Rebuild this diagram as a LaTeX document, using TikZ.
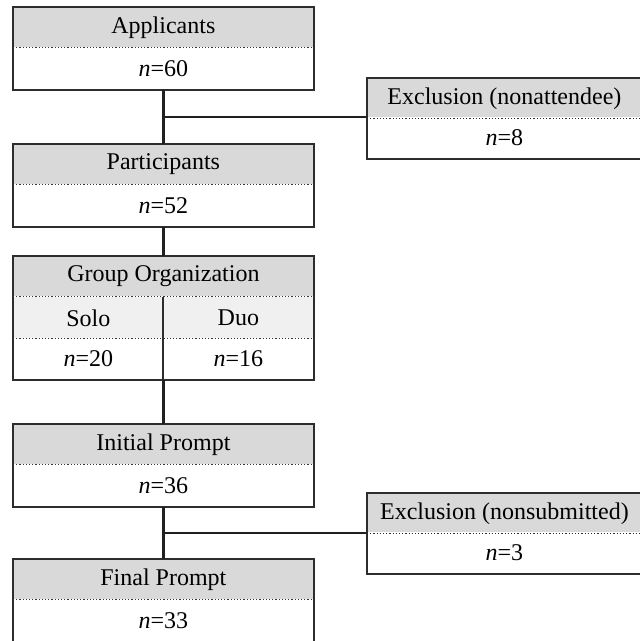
\documentclass[tikz,border=0pt]{standalone}
\usepackage{fontspec}
\setmainfont{Liberation Serif}
\usetikzlibrary{positioning,calc}
\tikzset{
  head/.style={fill=gray!30, minimum height=20pt, inner sep=0pt, font=\fontsize{12}{14}\selectfont},
  sub/.style={fill=gray!12, minimum height=20.5pt, inner sep=0pt, font=\fontsize{12}{14}\selectfont},
  body/.style={fill=white, minimum height=20.5pt, inner sep=0pt, font=\fontsize{12}{14}\selectfont},
  wide/.style={minimum width=150pt},
  half/.style={minimum width=75pt},
  side/.style={minimum width=137pt},
  frame/.style={draw=gray!35!black, line width=1pt},
  sep/.style={draw=gray!40!black, densely dotted, line width=0.6pt},
  link/.style={draw=gray!25!black, line width=1.2pt}
}
\newcommand{\nval}[1]{\textit{n}=#1}
\begin{document}
\begin{tikzpicture}[x=0.5pt,y=-0.5pt]
  \clip (0,0) rectangle (640,641);
  \fill[white] (0,0) rectangle (640,641);
  % left column
  \node[head,wide,anchor=north west] (apph) at (13,7) {Applicants};
  \node[body,wide,anchor=north west] (appb) at (13,48) {\nval{60}};
  \node[head,wide,anchor=north west] (parh) at (13,144) {Participants};
  \node[body,wide,anchor=north west] (parb) at (13,185) {\nval{52}};
  \node[head,wide,anchor=north west] (grph) at (13,256) {Group Organization};
  \node[sub,half,anchor=north west] (solo) at (13,297) {Solo};
  \node[sub,half,anchor=north west] (duo) at (163,297) {Duo};
  \node[body,half,anchor=north west] (solon) at (13,338) {\nval{20}};
  \node[body,half,anchor=north west] (duon) at (163,338) {\nval{16}};
  \node[head,wide,anchor=north west] (inih) at (13,424) {Initial Prompt};
  \node[body,wide,anchor=north west] (inib) at (13,465) {\nval{36}};
  \node[head,wide,anchor=north west] (finh) at (13,559) {Final Prompt};
  \node[body,wide,anchor=north west] (finb) at (13,600) {\nval{33}};
  % right column
  \node[head,side,anchor=north west] (ex1h) at (367,78) {Exclusion (nonattendee)};
  \node[body,side,anchor=north west] (ex1b) at (367,117) {\nval{8}};
  \node[head,side,anchor=north west] (ex2h) at (367,493) {Exclusion (nonsubmitted)};
  \node[body,side,anchor=north west] (ex2b) at (367,532) {\nval{3}};
  % frames and separators
  \foreach \h/\b in {apph/appb, parh/parb, inih/inib, finh/finb, ex1h/ex1b, ex2h/ex2b, grph/duon} {
    \draw[frame] (\h.north west) rectangle (\b.south east);
    \draw[sep] (\h.south west) -- (\h.south east);
  }
  \draw[sep] (solo.south west) -- (duo.south east);
  \draw[frame, line width=0.8pt] (duo.north west) -- (duon.south west);
  % connectors
  \draw[link] (appb.south) -- (parh.north);
  \draw[link] (parb.south) -- (grph.north);
  \draw[link] (inih.north |- solon.south) -- (inih.north);
  \draw[link] (inib.south) -- (finh.north);
  \coordinate (br1) at ($(appb.south)!0.5!(parh.north)$);
  \coordinate (br2) at ($(inib.south)!0.5!(finh.north)$);
  \draw[link] (br1) -- (br1 -| ex1h.west);
  \draw[link] (br2) -- (br2 -| ex2h.west);
\end{tikzpicture}
\end{document}
